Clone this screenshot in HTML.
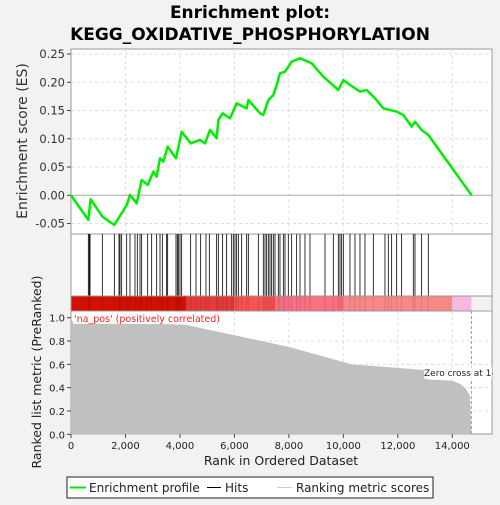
<!DOCTYPE html>
<html><head><meta charset="utf-8"><style>
body{margin:0;background:#f2f2f2;}
svg text{font-family:"DejaVu Sans","Liberation Sans",sans-serif;}
</style></head><body>
<svg width="500" height="500" viewBox="0 0 500 500">
<rect width="500" height="500" fill="#f2f2f2"/>
<text x="250" y="18" text-anchor="middle" font-size="17" font-weight="bold">Enrichment plot:</text>
<text x="250" y="40" text-anchor="middle" font-size="17" font-weight="bold">KEGG_OXIDATIVE_PHOSPHORYLATION</text>
<g id="es"></g><g id="hits"></g><g id="bar"></g><g id="metric"></g>
<text transform="translate(27,141) rotate(-90)" text-anchor="middle" font-size="14" fill="#333">Enrichment score (ES)</text>
<text transform="translate(41,372) rotate(-90)" text-anchor="middle" font-size="12.5" fill="#222">Ranked list metric (PreRanked)</text>
<text x="281" y="465" text-anchor="middle" font-size="12.5" fill="#222">Rank in Ordered Dataset</text>
<g>
<rect x="67" y="477" width="366" height="21" fill="#fff" stroke="#222"/>
<line x1="70" y1="487.5" x2="86" y2="487.5" stroke="#00ee00" stroke-width="2"/>
<text x="89" y="492" font-size="12" fill="#222">Enrichment profile</text>
<line x1="207" y1="487.5" x2="221" y2="487.5" stroke="#000"/>
<text x="225" y="492" font-size="12" fill="#222">Hits</text>
<line x1="277" y1="487.5" x2="292" y2="487.5" stroke="#ccc"/>
<text x="296" y="492" font-size="12" fill="#222">Ranking metric scores</text>
</g>
</svg>
<script>
const esRanks=[0,636,722,1150,1591,2044,2166,2411,2594,2815,3023,3145,3268,3390,3549,3855,4063,4393,4736,4920,5103,5348,5409,5568,5837,6082,6450,6511,6939,7061,7245,7428,7551,7673,7857,8102,8408,8836,9264,9815,9998,10243,10610,10855,11161,11467,11957,12201,12507,12630,12874,13119,14710];
const esValues=[0,-0.0436,-0.0071,-0.0377,-0.0525,-0.0172,0.0006,-0.0142,0.0272,0.0183,0.0419,0.033,0.0655,0.0596,0.0861,0.0655,0.1125,0.092,0.0979,0.092,0.1156,0.1008,0.1333,0.145,0.1362,0.1627,0.1538,0.1686,0.145,0.1421,0.1686,0.1775,0.1952,0.2158,0.2188,0.2364,0.2425,0.2335,0.2099,0.1863,0.204,0.1952,0.1834,0.1863,0.1716,0.1539,0.148,0.1421,0.1215,0.1303,0.1156,0.1067,0];
const hitRanks=[636,673,698,1150,1591,1762,1799,1860,2044,2166,2350,2435,2533,2594,2815,2962,3145,3268,3353,3512,3549,3855,3904,3941,4002,4063,4393,4589,4761,4956,5079,5348,5409,5568,5715,5899,5960,6021,6082,6144,6266,6450,6511,6878,7061,7123,7184,7245,7306,7367,7428,7490,7612,7673,7796,7857,7979,8102,8285,8408,8591,8775,9326,9631,9815,9876,9937,9998,10243,10427,10610,10794,11100,11528,11650,11773,11957,12140,12568,12630,12874,13119];
const metricRanks=[0,50,4200,6000,8000,10000,10300,12000,13000,13100,14000,14300,14500,14650,14700];
const metricValues=[1.0,0.97,0.94,0.85,0.75,0.62,0.6,0.57,0.55,0.47,0.46,0.43,0.39,0.33,0.0];
const xTicks=[0,2000,4000,6000,8000,10000,12000,14000];
const xTickLabels=["0","2,000","4,000","6,000","8,000","10,000","12,000","14,000"];
const esTicks=[-0.05,0,0.05,0.1,0.15,0.2,0.25];
const esTickLabels=["-0.05","0.00","0.05","0.10","0.15","0.20","0.25"];
const mTicks=[0,0.2,0.4,0.6,0.8,1.0];
const mTickLabels=["0.0","0.2","0.4","0.6","0.8","1.0"];
const barStops=[0,4250,6000,7500,10000,14000,14700];
const barColors=["#d41000","#e63a3a","#f85252","#f87082","#f88888","#f8b8e0"];

const NS="http://www.w3.org/2000/svg";
const L=71,R=492;
const X=r=>L+r*(452.3-71)/14000;
const Yes=v=>195.3-v*(195.3-54)/0.25;
const Ym=v=>434.3-v*(434.3-317.7);
function mk(p,t,a){const e=document.createElementNS(NS,t);for(const k in a)e.setAttribute(k,a[k]);p.appendChild(e);return e;}
const es=document.getElementById('es'),hits=document.getElementById('hits'),bar=document.getElementById('bar'),met=document.getElementById('metric');
// panels
let p1=mk(es,'rect',{x:L,y:49,width:R-L,height:185,fill:'#fff',stroke:'#999'});

let p2=mk(hits,'rect',{x:L,y:234,width:R-L,height:62,fill:'#fff',stroke:'#999'});

let p3=mk(met,'rect',{x:L,y:311,width:R-L,height:123,fill:'#fff',stroke:'#999'});

// grids
xTicks.forEach((t,i)=>{
 if(i>0){mk(es,'line',{x1:X(t),x2:X(t),y1:49,y2:234,stroke:'#ddd','stroke-dasharray':'3,3'});
 mk(met,'line',{x1:X(t),x2:X(t),y1:311,y2:434,stroke:'#ddd','stroke-dasharray':'3,3'});}
 mk(met,'line',{x1:X(t),x2:X(t),y1:434,y2:438,stroke:'#444'});
 const tx=mk(met,'text',{x:X(t),y:449,'text-anchor':'middle','font-size':'10',fill:'#222'});tx.textContent=xTickLabels[i];
 
});
esTicks.forEach((t,i)=>{
 mk(es,'line',{x1:L,x2:R,y1:Yes(t),y2:Yes(t),stroke:t===0?'#aaa':'#ddd','stroke-dasharray':t===0?'':'3,3'});
 mk(es,'line',{x1:L-4,x2:L,y1:Yes(t),y2:Yes(t),stroke:'#444'});
 const tx=mk(es,'text',{x:L-6,y:Yes(t)+4,'text-anchor':'end','font-size':'11.5',fill:'#333'});tx.textContent=esTickLabels[i];
 
});
mTicks.forEach((t,i)=>{
 if(t>0&&t<1)mk(met,'line',{x1:L,x2:R,y1:Ym(t),y2:Ym(t),stroke:'#ddd','stroke-dasharray':'3,3'});
 mk(met,'line',{x1:L-4,x2:L,y1:Ym(t),y2:Ym(t),stroke:'#444'});
 const tx=mk(met,'text',{x:L-6,y:Ym(t)+4,'text-anchor':'end','font-size':'10',fill:'#222'});tx.textContent=mTickLabels[i];
 
});
// ES line
const esl=mk(es,'polyline',{points:esRanks.map((r,i)=>X(r)+','+Yes(esValues[i])).join(' '),fill:'none',stroke:'#00ee00','stroke-width':2.5,'stroke-linejoin':'round'});

// hits
hitRanks.forEach(r=>{const h=mk(hits,'line',{x1:X(r),x2:X(r),y1:234,y2:296,stroke:'#000','stroke-width':0.8});
 });
// color bar
for(let i=0;i<barColors.length;i++){const b=mk(bar,'rect',{x:X(barStops[i]),y:296,width:X(barStops[i+1])-X(barStops[i]),height:15,fill:barColors[i]});
 }
hitRanks.forEach(r=>{mk(bar,'line',{x1:X(r),x2:X(r),y1:296,y2:311,stroke:'#000','stroke-opacity':0.12});});
mk(bar,'rect',{x:L,y:296,width:R-L,height:15,fill:'none',stroke:'#999'});
// metric area
const pts=metricRanks.map((r,i)=>X(r)+','+Ym(metricValues[i]));
const ar=mk(met,'polygon',{points:X(0)+','+Ym(0)+' '+pts.join(' ')+' '+X(14700)+','+Ym(0),fill:'#c0c0c0'});

mk(met,'line',{x1:X(14700),x2:X(14700),y1:311,y2:434,stroke:'#999','stroke-dasharray':'3,2'});
mk(met,'rect',{x:73,y:313,width:154,height:11,fill:'#fff','fill-opacity':0.8});
const lb=mk(met,'text',{x:74,y:322,'font-size':'9.5',fill:'#ff2020'});lb.textContent="'na_pos' (positively correlated)";

mk(met,'rect',{x:424,y:367,width:68,height:12,fill:'#fff','fill-opacity':0.8});
const zc=mk(met,'text',{x:424,y:376,'font-size':'9',fill:'#222'});zc.textContent="Zero cross at 14700";

mk(met,'rect',{x:492.5,y:360,width:8,height:20,fill:'#f2f2f2'});
</script>
</body></html>
